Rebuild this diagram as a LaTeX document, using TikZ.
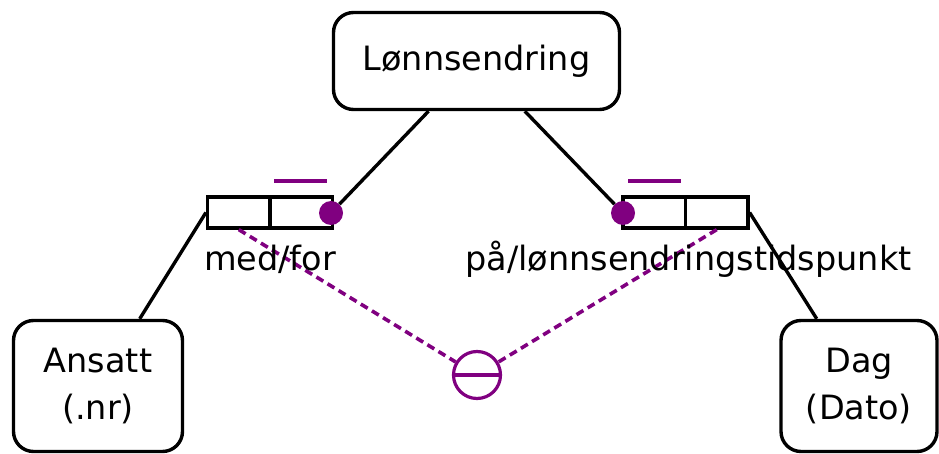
\documentclass[tikz,border=0pt]{standalone}
\usepackage{fontspec}
\setmainfont{DejaVu Sans}
\usetikzlibrary{calc}
\definecolor{orm}{RGB}{128,0,128}
\tikzset{
  ent/.style={draw, line width=3.4pt, rounded corners=20pt, inner sep=0pt, align=center, font=\fontsize{33.5}{47}\selectfont},
  cell/.style={draw, line width=3.2pt, minimum width=62.5pt, minimum height=31pt, inner sep=0pt},
  conn/.style={line width=3.4pt},
  dotm/.style={circle, fill=orm, inner sep=0pt, minimum size=24pt},
  uq/.style={orm, line width=4pt},
  exc/.style={orm, line width=3.6pt, dash pattern=on 8pt off 5pt},
  lbl/.style={font=\fontsize{33.5}{40}\selectfont, inner sep=0pt, anchor=base west}
}
\begin{document}
\begin{tikzpicture}[x=1pt,y=-1pt]
\useasboundingbox (0,0) rectangle (939,454);
\node[ent, minimum width=286pt, minimum height=97pt] (lon) at (476.5,61) {Lønnsendring};
\node[ent, minimum width=169pt, minimum height=131pt] (ans) at (98,386) {Ansatt\\(.nr)};
\node[ent, minimum width=156pt, minimum height=131pt] (dag) at (859,386) {Dag\\(Dato)};
% left role box
\node[cell] (lc1) at (238.75,212.5) {};
\node[cell] (lc2) at (301.25,212.5) {};
\node[dotm] (ldot) at (331,213) {};
% right role box
\node[cell] (rc1) at (654.25,212.5) {};
\node[cell] (rc2) at (716.75,212.5) {};
\node[dotm] (rdot) at (623,213) {};
% uniqueness bars
\coordinate (lu1) at ($(lc2.north west)+(6,-14)$);
\coordinate (lu2) at ($(lc2.north east)+(-7,-14)$);
\coordinate (ru1) at ($(rc1.north west)+(7,-14)$);
\coordinate (ru2) at ($(rc1.north east)+(-6,-14)$);
\draw[uq] (lu1) -- (lu2);
\draw[uq] (ru1) -- (ru2);
% exclusion constraint
\node[draw=orm, circle, line width=3.2pt, minimum size=47pt, inner sep=0pt] (exc) at (477,375) {};
\draw[orm, line width=3.2pt] (exc.west) -- (exc.east);
\draw[exc] (lc1.south) -- (exc);
\draw[exc] (rc2.south) -- (exc);
% connectors
\draw[conn] (lon) -- (ldot);
\draw[conn] (lon) -- (rdot);
\draw[conn] (lc1.west) -- (ans);
\draw[conn] (rc2.east) -- (dag);
% labels
\node[lbl] (l1) at (204,270) {med/for};
\node[lbl] (l2) at (465,270) {på/lønnsendringstidspunkt};
\end{tikzpicture}
\end{document}
